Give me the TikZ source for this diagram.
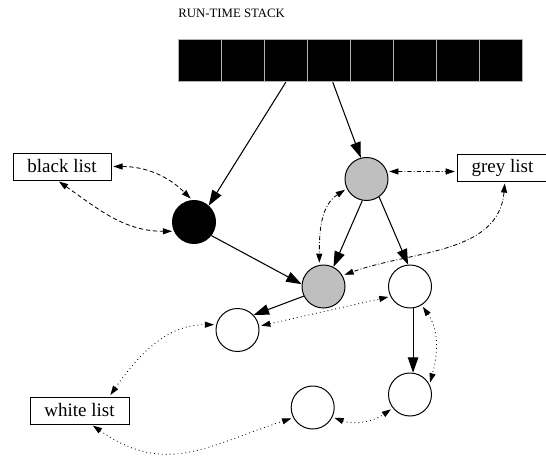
\documentclass[tikz,border=0pt]{standalone}
\usepackage{fontspec}
\setmainfont{Liberation Serif}
\usetikzlibrary{arrows.meta}

\begin{document}
\begin{tikzpicture}[x=0.025cm,y=-0.025cm]

\tikzstyle{cell}=[draw=black!30, fill=black, line width=0.6pt,
    minimum width=1.078cm, minimum height=1.07cm, inner sep=0pt]
\tikzstyle{obj}=[shape=circle, draw, line width=0.7pt,
    minimum size=1.075cm, inner sep=0pt]
\tikzstyle{list}=[draw, line width=0.5pt, minimum height=0.675cm,
    inner xsep=0.36cm, inner ysep=0pt, font=\fontsize{13.5}{16}\selectfont]
\tikzstyle{ref}=[-{Triangle[length=11pt,width=7.5pt]}, line width=0.75pt]
\tikzstyle{link}=[{Triangle[length=6.5pt,width=4.3pt]}-{Triangle[length=6.5pt,width=4.3pt]},
    line width=0.6pt, shorten <=1.5pt, shorten >=1.5pt]

  \useasboundingbox (0,0) rectangle (546,459);

  % stack
  \node[anchor=west, inner sep=0pt, font=\fontsize{9.1}{11}\selectfont] (title) at (178,13.5) {RUN-TIME STACK};
  \foreach \i in {0,...,7}
    \node[cell] (s\i) at (199.6+43.1*\i,60.4) {};

  % objects
  \node[obj, fill=black] (black) at (194,222) {};
  \node[obj, fill=black!25] (greytop) at (366.5,179) {};
  \node[obj, fill=black!25] (greymid) at (323.5,286.5) {};
  \node[obj] (wur) at (410,286.5) {};
  \node[obj] (wleft) at (237.5,330) {};
  \node[obj] (wlr) at (410,394.5) {};
  \node[obj] (wlm) at (312.7,407.5) {};

  % lists
  \node[list] (blist) at (62,166.5) {black list};
  \node[list] (glist) at (502.5,167.5) {grey list};
  \node[list] (wlist) at (79.5,410.5) {white list};

  % references
  \draw[ref] (s2.south) -- (black.48);
  \draw[ref] (s3.-80) -- (greytop.105);
  \draw[ref] (black.-38) -- (greymid.174);
  \draw[ref] (greytop.-101) -- (greymid.63);
  \draw[ref] (greytop.-55) -- (wur.95);
  \draw[ref] (greymid.206) -- (wleft.43);
  \draw[ref] (wur.-82) -- (wlr.82);

  % black list
  \draw[link, dash pattern=on 3pt off 2pt] (blist.east) to[out=0, in=135] (black.95);
  \draw[link, dash pattern=on 3pt off 2pt] (blist.-109) to[out=-35, in=180] (black.205);
  % grey list
  \draw[link, dash pattern=on 3pt off 1.5pt on 0.6pt off 1.5pt] (greytop.20) -- (glist.185);
  \draw[link, dash pattern=on 3pt off 1.5pt on 0.6pt off 1.5pt] (greytop.206) to[out=213, in=90] (greymid.101);
  \draw[link, dash pattern=on 3pt off 1.5pt on 0.6pt off 1.5pt] (glist.-80) to[out=-95, in=20] (greymid.30);
  % white list
  \draw[link, dash pattern=on 0.6pt off 2.2pt] (wleft.10) -- (wur.207);
  \draw[link, dash pattern=on 0.6pt off 2.2pt] (wlist.25) to[out=55, in=180] (wleft.166);
  \draw[link, dash pattern=on 0.6pt off 2.2pt] (wlist.-50) to[out=-35, in=198, looseness=1.15] (wlm.208);
  \draw[link, dash pattern=on 0.6pt off 2.2pt] (wlm.-26) to[out=-20, in=215] (wlr.218);
  \draw[link, dash pattern=on 0.6pt off 2.2pt] (wur.-58) to[out=-55, in=75] (wlr.27);

\end{tikzpicture}
\end{document}
